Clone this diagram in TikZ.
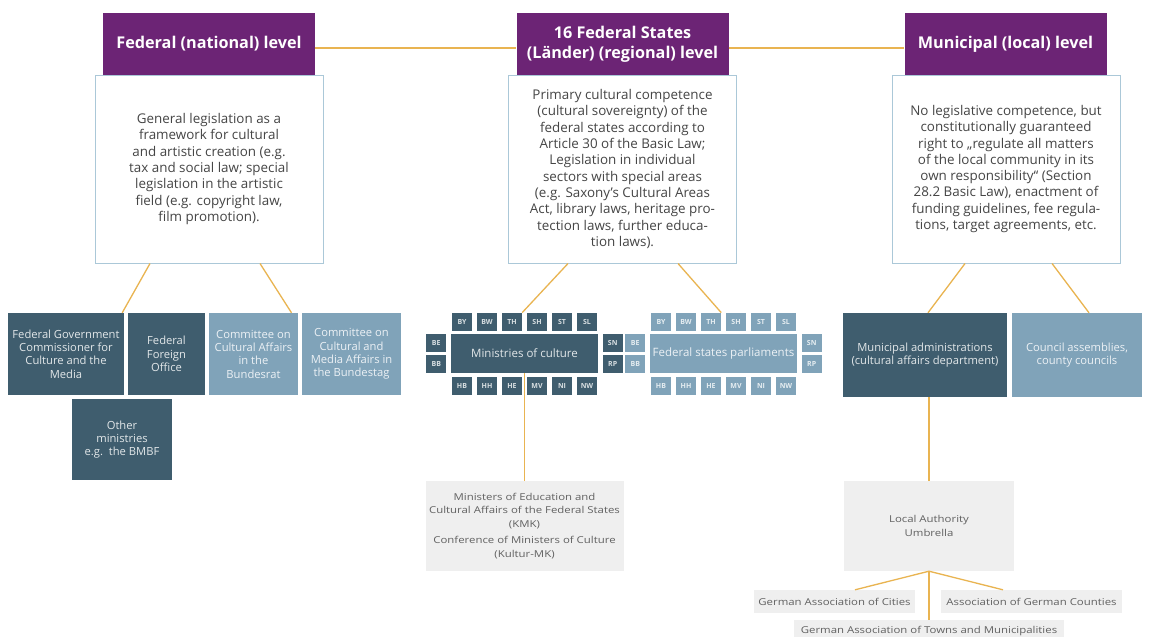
\documentclass[tikz,border=0pt]{standalone}
\usepackage{fontspec}
\setmainfont{Open Sans}
\newfontfamily\widesf{Open Sans}[FakeStretch=1.2]
\definecolor{lvlpurple}{HTML}{6C2475}
\definecolor{boxdark}{HTML}{3F5D6E}
\definecolor{boxlight}{HTML}{80A3B9}
\definecolor{linegold}{HTML}{E9B451}
\definecolor{frameblue}{HTML}{ABC8D8}
\definecolor{greybox}{HTML}{EFEFEF}
\definecolor{textgrey}{HTML}{454545}
\usetikzlibrary{positioning, calc}

\begin{document}
\begin{tikzpicture}[x=1pt, y=-1pt,
    lvl/.style={fill=lvlpurple, text=white, minimum width=212pt, minimum height=62pt,
                inner sep=0pt, align=center, font=\fontsize{16.2}{20}\selectfont\bfseries},
    txt/.style={draw=frameblue, line width=1pt, fill=white, text=textgrey,
                minimum width=228pt, minimum height=188pt, inner sep=0pt, align=center,
                font=\fontsize{13.4}{16.3}\selectfont},
    dk/.style={fill=boxdark, text=white!85!boxdark, inner sep=0pt, align=center,
               font=\fontsize{11.2}{13.3}\selectfont},
    lt/.style={fill=boxlight, text=white!85!boxlight, inner sep=0pt, align=center,
               font=\fontsize{11.2}{13.3}\selectfont},
    sq/.style={fill=#1, text=white!80!#1, minimum width=20pt, minimum height=18pt,
               inner sep=0pt, font=\fontsize{7}{8}\selectfont\bfseries},
    gr/.style={fill=greybox, text=textgrey!85, inner sep=0pt, align=center,
               font=\widesf\fontsize{9.5}{13.3}\selectfont},
    ln/.style={draw=linegold, line width=1.3pt}
  ]
  \useasboundingbox[fill=white] (0,0) rectangle (1151,637);

  % three levels
  \node[lvl] (fedh) at (209,44) {Federal (national) level};
  \node[lvl] (lndh) at (622.5,44) {16 Federal States\\(Länder) (regional) level};
  \node[lvl, minimum width=202pt] (munh) at (1005.5,44) {Municipal (local) level};

  \node[txt] (fedb) at (209,169) {General legislation as a\\framework for cultural\\and artistic creation (e.g.\\tax and social law; special\\legislation in the artistic\\field (e.g. copyright law,\\film promotion).};
  \node[txt] (lndb) at (622.5,169) {Primary cultural competence\\(cultural sovereignty) of the\\federal states according to\\Article 30 of the Basic Law;\\Legislation in individual\\sectors with special areas\\(e.g. Saxony’s Cultural Areas\\Act, library laws, heritage pro-\\tection laws, further educa-\\tion laws).};
  \node[txt] (munb) at (1006,169) {No legislative competence, but\\constitutionally guaranteed\\right to „regulate all matters\\of the local community in its\\own responsibility“ (Section\\28.2 Basic Law), enactment of\\funding guidelines, fee regula-\\tions, target agreements, etc.};

  \draw[ln] ([yshift=-4pt]fedh.east) -- ([yshift=-4pt]lndh.west);
  \draw[ln] ([yshift=-4pt]lndh.east) -- ([yshift=-4pt]munh.west);

  % federal bodies
  \node[dk, minimum width=116pt, minimum height=82pt] (fgc) at (66,354) {Federal Government\\Commissioner for\\Culture and the\\Media};
  \node[dk, minimum width=77pt, minimum height=82pt] (ffo) at (166.5,354) {Federal\\Foreign\\Office};
  \node[lt, minimum width=89pt, minimum height=82pt] (cbr) at (253.5,354) {Committee on\\Cultural Affairs\\in the\\Bundesrat};
  \node[lt, minimum width=99pt, minimum height=82pt] (cbt) at (351.5,354) {Committee on\\Cultural and\\Media Affairs in\\the Bundestag};
  \node[dk, minimum width=100pt, minimum height=81pt] (oth) at (122,439.5) {Other\\ministries\\e.g.~~the BMBF};

  \draw[ln] ([xshift=-59pt]fedb.south) -- ([xshift=-2pt]fgc.north east);
  \draw[ln] ([xshift=51pt]fedb.south) -- ([xshift=38pt]cbr.north);

  % state bodies
  \node[dk, minimum width=147pt, minimum height=39pt, font=\fontsize{11.5}{13}\selectfont] (moc) at (524.5,353.5) {Ministries of culture};
  \node[lt, minimum width=147pt, minimum height=39pt, font=\fontsize{11.5}{13}\selectfont] (fsp) at (723.5,353.5) {Federal states parliaments};

  \foreach \g/\main/\col in {m/moc/boxdark, p/fsp/boxlight} {
    \foreach \c [count=\i from 0] in {BY,BW,TH,SH,ST,SL}
      \node[sq=\col] (\g\c) at ($(\main.north)+(-62.5+25*\i,-12)$) {\c};
    \foreach \c [count=\i from 0] in {HB,HH,HE,MV,NI,NW}
      \node[sq=\col] (\g\c) at ($(\main.south)+(-62.5+25*\i,12.5)$) {\c};
    \node[sq=\col] (\g BE) at ($(\main.west)+(-14.5,-10.5)$) {BE};
    \node[sq=\col] (\g BB) at ($(\main.west)+(-14.5,10.5)$) {BB};
    \node[sq=\col] (\g SN) at ($(\main.east)+(14.5,-10.5)$) {SN};
    \node[sq=\col] (\g RP) at ($(\main.east)+(14.5,10.5)$) {RP};
  }

  \draw[ln] ([xshift=-54.5pt]lndb.south) -- (mTH.north east);
  \draw[ln] ([xshift=55.5pt]lndb.south) -- (pTH.north east);

  \node[gr, minimum width=198pt, minimum height=90pt] (kmk) at (524.5,526) {Ministers of Education and\\Cultural Affairs of the Federal States\\(KMK)\\[3.5pt]Conference of Ministers of Culture\\(Kultur-MK)};
  \draw[ln] (moc.south) -- (kmk.north);

  % municipal bodies
  \node[dk, minimum width=164pt, minimum height=84pt] (mad) at (925,355) {Municipal administrations\\(cultural affairs department)};
  \node[lt, minimum width=130pt, minimum height=84pt] (cac) at (1077,355) {Council assemblies,\\county councils};

  \draw[ln] ([xshift=-41pt]munb.south) -- ([xshift=3pt]mad.north);
  \draw[ln] ([xshift=46pt]munb.south) -- ([xshift=12pt]cac.north);

  \node[gr, minimum width=170pt, minimum height=90pt] (lau) at (929,526) {Local Authority\\Umbrella};
  \draw[ln] (lau.north |- mad.south) -- (lau.north);

  \node[gr, minimum width=161pt, minimum height=23pt] (dsc) at (834.5,601.5) {German Association of Cities};
  \node[gr, minimum width=181pt, minimum height=23pt] (dlt) at (1031.5,601.5) {Association of German Counties};
  \node[gr, minimum width=270pt, minimum height=22pt] (dsgb) at (929,631) {German Association of Towns and Municipalities};

  \draw[ln] (lau.south) -- ([xshift=20.5pt]dsc.north);
  \draw[ln] (lau.south) -- ([xshift=-28.5pt]dlt.north);
  \draw[ln] (lau.south) -- (dsgb.north);
\end{tikzpicture}
\end{document}
